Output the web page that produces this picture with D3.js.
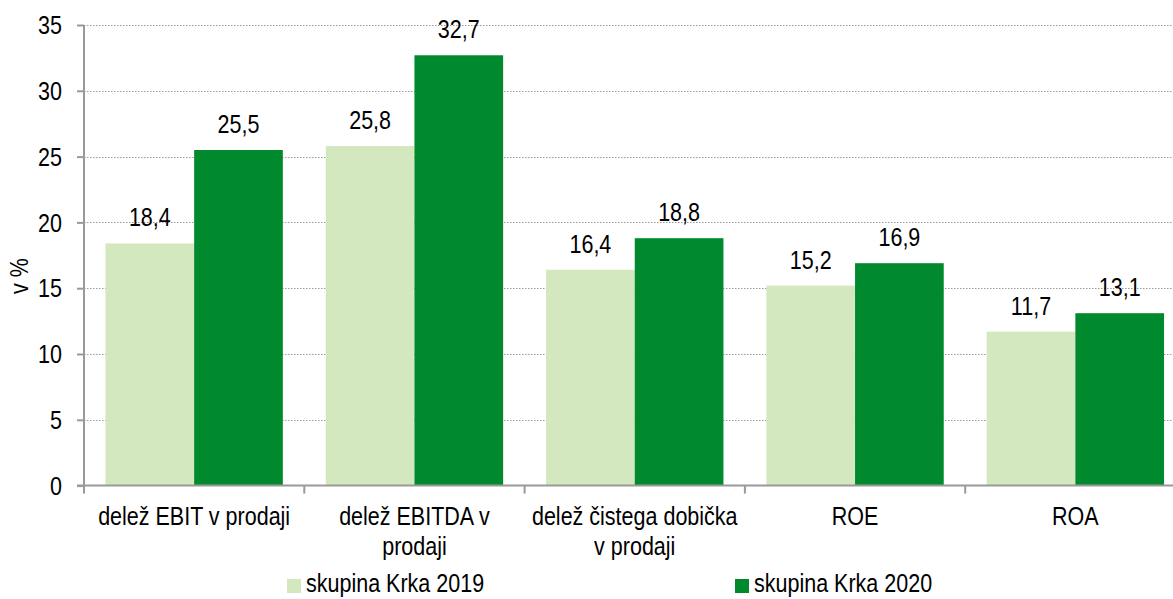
<!DOCTYPE html>
<html>
<head>
<meta charset="utf-8">
<script src="https://cdn.jsdelivr.net/npm/d3@7"></script>
<style>
  body { margin: 0; background: #fff; }
  svg text { font-family: "Liberation Sans Narrow", "Arial Narrow", "Liberation Sans", Arial, sans-serif; fill: #000; }
</style>
</head>
<body>
<div id="chart"></div>
<script>
// podatki
var categories = ["delež EBIT v prodaji", "delež EBITDA v prodaji", "delež čistega dobička v prodaji", "ROE", "ROA"];
var seriesNames = ["skupina Krka 2019", "skupina Krka 2020"];
var values2019 = [18.4, 25.8, 16.4, 15.2, 11.7];
var values2020 = [25.5, 32.7, 18.8, 16.9, 13.1];
var yTicks = [0, 5, 10, 15, 20, 25, 30, 35];
var yLabel = "v %";

var width = 1173, height = 599;
var mLeft = 84, mTop = 25, mBottom = 485.6;
var catW = 220.3;
var colors = ["#d3e8be", "#008a2d"];
var fontSize = 25;
var narrowRate = 0.86; // ozka pisava - stisnemo Liberation Sans

// stisni besedilo (ozka pisava)
function narrow(sel) {
  sel.each(function() {
    var len = this.getComputedTextLength();
    if (len > 0) {
      d3.select(this).attr("textLength", len * narrowRate).attr("lengthAdjust", "spacingAndGlyphs");
    }
  });
}

var svg = d3.select("#chart").append("svg")
  .attr("width", width)
  .attr("height", height);

var x = d3.scaleBand()
  .domain(categories)
  .range([mLeft, mLeft + catW * categories.length])
  .padding(0);

var xInner = d3.scaleBand()
  .domain(seriesNames)
  .range([0, x.bandwidth()])
  .paddingInner(0)
  .paddingOuter(0.242);

var y = d3.scaleLinear()
  .domain([0, 35])
  .range([mBottom, mTop]);

// mreza (pikcaste crte)
svg.append("g")
  .selectAll("line")
  .data(yTicks.slice(1))
  .enter().append("line")
  .attr("x1", mLeft)
  .attr("x2", width)
  .attr("y1", function(d) { return Math.round(y(d)) + 0.5; })
  .attr("y2", function(d) { return Math.round(y(d)) + 0.5; })
  .attr("stroke", "#9a9a9a")
  .attr("stroke-width", 1)
  .attr("stroke-dasharray", "1.5,1.5");

// stolpci
var data = categories.map(function(c, i) {
  return { cat: c, vals: [values2019[i], values2020[i]] };
});

var groups = svg.selectAll(".grp").data(data).enter()
  .append("g")
  .attr("class", "grp")
  .attr("transform", function(d) { return "translate(" + x(d.cat) + ",0)"; });

groups.selectAll("rect")
  .data(function(d) { return d.vals.map(function(v, j) { return { s: seriesNames[j], v: v, j: j }; }); })
  .enter().append("rect")
  .attr("x", function(d) { return xInner(d.s); })
  .attr("y", function(d) { return y(d.v); })
  .attr("width", xInner.bandwidth())
  .attr("height", function(d) { return y(0) - y(d.v); })
  .attr("fill", function(d) { return colors[d.j]; });

// oznake vrednosti
var fmt = function(v) { return d3.format(".1f")(v).replace(".", ","); };
groups.selectAll(".val")
  .data(function(d) { return d.vals.map(function(v, j) { return { s: seriesNames[j], v: v }; }); })
  .enter().append("text")
  .attr("class", "val")
  .attr("x", function(d) { return xInner(d.s) + xInner.bandwidth() / 2; })
  .attr("y", function(d) { return y(d.v) - 17; })
  .attr("text-anchor", "middle")
  .attr("font-size", fontSize + "px")
  .text(function(d) { return fmt(d.v); })
  .call(narrow);

// os y
var yAxis = svg.append("g")
  .attr("transform", "translate(" + mLeft + ",0)")
  .call(d3.axisLeft(y).tickValues(yTicks).tickSize(7).tickPadding(15).tickFormat(d3.format("d")));
yAxis.select(".domain").attr("stroke", "#9a9a9a").attr("stroke-width", 2)
  .attr("d", "M0," + mTop + "V" + mBottom);
yAxis.selectAll(".tick line").attr("stroke", "#9a9a9a").attr("stroke-width", 2);
yAxis.selectAll(".tick text")
  .attr("font-size", fontSize + "px")
  .attr("font-family", null)
  .attr("dy", "0.35em")
  .call(narrow);

svg.append("text")
  .attr("transform", "translate(28,276) rotate(-90)")
  .attr("text-anchor", "middle")
  .attr("font-size", fontSize + "px")
  .text(yLabel)
  .call(narrow);

// os x
svg.append("line")
  .attr("x1", mLeft - 7).attr("x2", width)
  .attr("y1", mBottom).attr("y2", mBottom)
  .attr("stroke", "#9a9a9a").attr("stroke-width", 2);

svg.selectAll(".xtick")
  .data(categories.concat([null]))
  .enter().append("line")
  .attr("class", "xtick")
  .attr("x1", function(d, i) { return mLeft + i * catW; })
  .attr("x2", function(d, i) { return mLeft + i * catW; })
  .attr("y1", mBottom).attr("y2", mBottom + 8)
  .attr("stroke", "#9a9a9a").attr("stroke-width", 2);

// napisi kategorij (z lomljenjem vrstic)
var maxLine = 250; // v sirini nestisnjene pisave
var catG = svg.selectAll(".cat").data(categories).enter()
  .append("g")
  .attr("class", "cat");

catG.each(function(d) {
  var g = d3.select(this);
  var cx = x(d) + x.bandwidth() / 2;
  var probe = g.append("text").attr("font-size", fontSize + "px");
  var words = d.split(" ");
  var lines = [];
  var line = [];
  words.forEach(function(w) {
    line.push(w);
    probe.text(line.join(" "));
    if (probe.node().getComputedTextLength() > maxLine && line.length > 1) {
      line.pop();
      lines.push(line.join(" "));
      line = [w];
    }
  });
  lines.push(line.join(" "));
  probe.remove();
  lines.forEach(function(l, i) {
    g.append("text")
      .attr("x", cx)
      .attr("y", 525 + i * 30)
      .attr("text-anchor", "middle")
      .attr("font-size", fontSize + "px")
      .text(l)
      .call(narrow);
  });
});

// legenda
var legendX = [287, 735];
var legend = svg.selectAll(".leg").data(seriesNames).enter()
  .append("g")
  .attr("class", "leg")
  .attr("transform", function(d, i) { return "translate(" + legendX[i] + ",579)"; });
legend.append("rect")
  .attr("width", 14).attr("height", 14)
  .attr("fill", function(d, i) { return colors[i]; });
legend.append("text")
  .attr("x", 19).attr("y", 13)
  .attr("font-size", fontSize + "px")
  .text(function(d) { return d; })
  .call(narrow);
</script>
</body>
</html>
